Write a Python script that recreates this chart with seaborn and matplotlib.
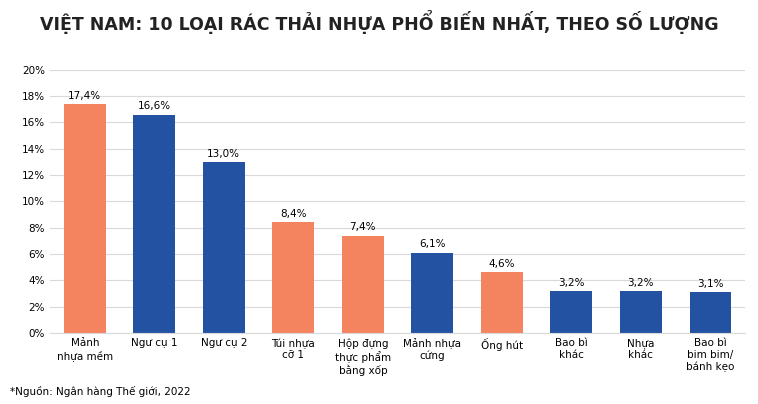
import matplotlib
matplotlib.use("Agg")
import matplotlib.pyplot as plt
import seaborn as sns
import pandas as pd

categories = ["Mảnh\nnhựa mềm", "Ngư cụ 1", "Ngư cụ 2", "Túi nhựa\ncỡ 1", "Hộp đựng\nthực phẩm\nbằng xốp",
              "Mảnh nhựa\ncứng", "Ống hút", "Bao bì\nkhác", "Nhựa\nkhác", "Bao bì\nbim bim/\nbánh kẹo"]
values = [17.4, 16.6, 13.0, 8.4, 7.4, 6.1, 4.6, 3.2, 3.2, 3.1]
groups = ["o", "b", "b", "o", "o", "b", "o", "b", "b", "b"]
yticks = list(range(0, 21, 2))

ORANGE = "#F4845F"
BLUE = "#2452A2"

df = pd.DataFrame({"cat": categories, "val": values, "grp": groups})

fig = plt.figure(figsize=(7.58, 4.04), dpi=100)
ax = fig.add_axes([0.066, 0.176, 0.917, 0.651])
sns.barplot(data=df, x="cat", y="val", hue="grp", palette={"o": ORANGE, "b": BLUE},
            dodge=False, width=0.6, legend=False, ax=ax, saturation=1)

for i, v in enumerate(values):
    ax.text(i, v + 0.25, f"{v:.1f}%".replace(".", ","), ha="center", va="bottom", fontsize=7.5)

ax.set_ylim(0, 20)
ax.set_yticks(yticks)
ax.set_yticklabels([f"{t}%" for t in yticks], fontsize=7.5)
ax.tick_params(axis="x", labelsize=7.5, length=0, pad=4)
ax.tick_params(axis="y", length=0)
for lbl in ax.get_xticklabels():
    lbl.set_verticalalignment("top")
ax.set_xlabel("")
ax.set_ylabel("")
ax.grid(True, axis="y", color="#d9d9d9", linewidth=0.8)
ax.set_axisbelow(True)
for s in ["top", "right", "left"]:
    ax.spines[s].set_visible(False)
ax.spines["bottom"].set_color("#d9d9d9")

fig.text(0.5, 0.945, "VIỆT NAM: 10 LOẠI RÁC THẢI NHỰA PHỔ BIẾN NHẤT, THEO SỐ LƯỢNG",
         ha="center", va="center", fontsize=12.5, fontweight="bold", color="#222222")
fig.text(0.013, 0.03, "*Nguồn: Ngân hàng Thế giới, 2022", ha="left", va="center", fontsize=7.5)

fig.savefig("out.png", dpi=100)
